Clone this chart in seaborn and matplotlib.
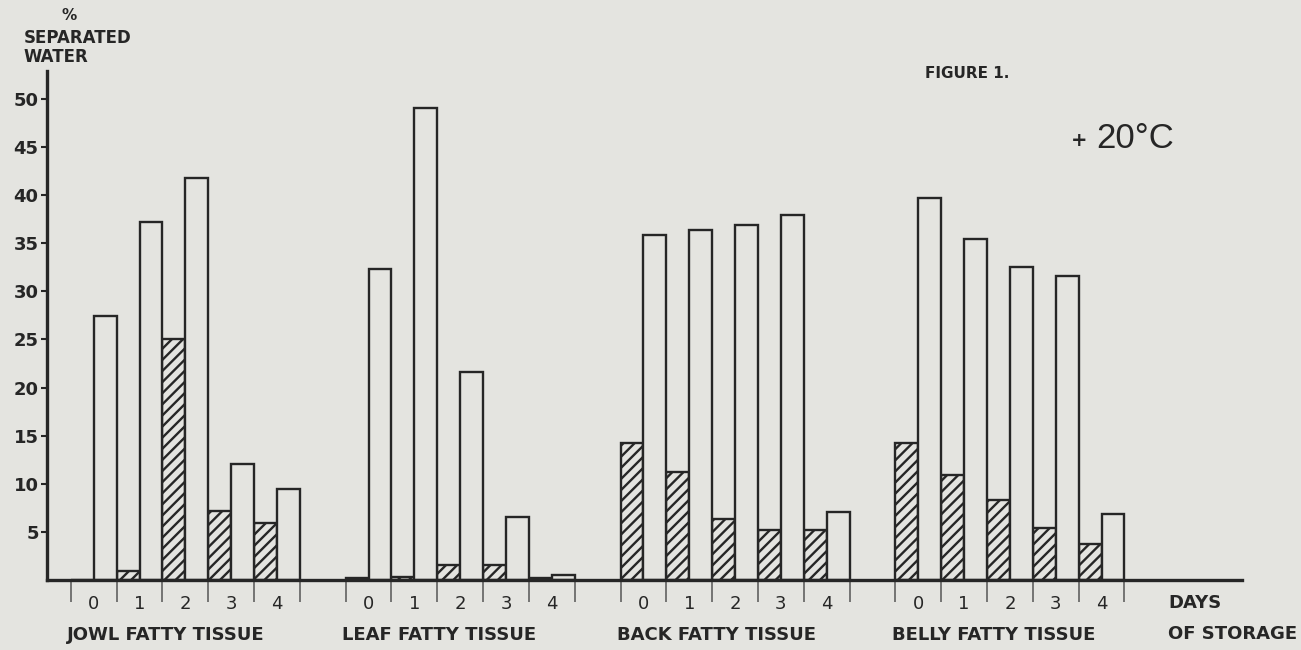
import numpy as np
import pandas as pd
import matplotlib
matplotlib.use("Agg")
import matplotlib.pyplot as plt
import seaborn as sns
from matplotlib import transforms

# ---------------- data ----------------
tissues = ["JOWL FATTY TISSUE", "LEAF FATTY TISSUE", "BACK FATTY TISSUE", "BELLY FATTY TISSUE"]
days = [0, 1, 2, 3, 4]
jowl_hatched = [0.0, 0.9, 25.1, 7.2, 5.9]
jowl_open = [27.4, 37.2, 41.8, 12.1, 9.5]
leaf_hatched = [0.2, 0.3, 1.6, 1.6, 0.2]
leaf_open = [32.3, 49.1, 21.6, 6.5, 0.5]
back_hatched = [14.2, 11.2, 6.3, 5.2, 5.2]
back_open = [35.9, 36.4, 36.9, 37.9, 7.1]
belly_hatched = [14.2, 10.9, 8.3, 5.4, 3.7]
belly_open = [39.7, 35.4, 32.5, 31.6, 6.9]
y_ticks = [5, 10, 15, 20, 25, 30, 35, 40, 45, 50]

hatched_series = [jowl_hatched, leaf_hatched, back_hatched, belly_hatched]
open_series = [jowl_open, leaf_open, back_open, belly_open]

GROUP_STRIDE = 6
rows = []
for g, (hs, os_) in enumerate(zip(hatched_series, open_series)):
    for d, hv, ov in zip(days, hs, os_):
        pos = g * GROUP_STRIDE + d
        rows.append({"pos": pos, "kind": "hatched", "value": hv})
        rows.append({"pos": pos, "kind": "open", "value": ov})
df = pd.DataFrame(rows)

# ---------------- style ----------------
BG = "#e4e4e0"
INK = "#262626"
sns.set_theme(style="ticks")
plt.rcParams["font.family"] = ["DejaVu Sans"]
plt.rcParams["hatch.linewidth"] = 1.7
plt.rcParams["hatch.color"] = INK

W, H = 1301, 650
fig = plt.figure(figsize=(W / 100, H / 100), dpi=100, facecolor=BG)
x0, x1 = 47, 1241.7
ybase, ytop = 580, 70.7
ax = fig.add_axes([x0 / W, 1 - ybase / H, (x1 - x0) / W, (ybase - ytop) / H])
ax.set_facecolor(BG)

sns.barplot(data=df, x="pos", y="value", hue="kind", hue_order=["hatched", "open"],
            native_scale=True, width=1.0, dodge=True, palette=[BG, BG],
            edgecolor=INK, linewidth=1.7, errorbar=None, legend=False, ax=ax)

for p in ax.patches:
    c = p.get_x() + p.get_width() / 2
    frac = c - np.floor(c)
    if abs(frac - 0.75) < 0.1:
        p.set_hatch("///")
    p.set_edgecolor(INK)
    p.set_linewidth(1.7)

ax.set_xlim(-1.02, 25.06)
ax.set_ylim(0, 52.94)

for s in ["top", "right"]:
    ax.spines[s].set_visible(False)
for s in ["left", "bottom"]:
    ax.spines[s].set_linewidth(2.4)
    ax.spines[s].set_color(INK)

ax.set_yticks(y_ticks)
ax.set_yticklabels([str(v) for v in y_ticks], fontsize=13, fontweight="bold", color=INK)
ax.tick_params(axis="y", direction="out", length=4, width=1.5, color=INK, pad=2)

centers = [g * GROUP_STRIDE + d for g in range(len(tissues)) for d in days]
bounds = [g * GROUP_STRIDE + d - 0.5 for g in range(len(tissues)) for d in range(len(days) + 1)]
ax.set_xticks(centers)
ax.set_xticklabels([str(d) for g in range(len(tissues)) for d in days], fontsize=13, color=INK)
ax.set_xticks(bounds, minor=True)
ax.tick_params(axis="x", which="major", length=0, pad=11)
ax.tick_params(axis="x", which="minor", length=16, width=1.1, color="#555555", direction="out")
ax.set_xlabel("")
ax.set_ylabel("")

trans = transforms.blended_transform_factory(ax.transData, ax.transAxes)
yfrac = -(635 - ybase) / (ybase - ytop)
for g, name in enumerate(tissues):
    ax.text(g * GROUP_STRIDE - 0.58, yfrac, name, transform=trans, ha="left", va="center",
            fontsize=13, fontweight="bold", color=INK)

def ftext(px, py, s, **kw):
    fig.text(px / W, 1 - py / H, s, **kw)

ftext(1168, 603, "DAYS", ha="left", va="center", fontsize=13, fontweight="bold", color=INK)
ftext(1168, 634, "OF STORAGE", ha="left", va="center", fontsize=13, fontweight="bold", color=INK)
ftext(69, 15, "%", ha="center", va="center", fontsize=11, fontweight="bold", color=INK)
ftext(24, 38, "SEPARATED", ha="left", va="center", fontsize=12, fontweight="bold", color=INK)
ftext(24, 57, "WATER", ha="left", va="center", fontsize=12, fontweight="bold", color=INK)
ftext(925, 73, "FIGURE 1.", ha="left", va="center", fontsize=11, fontweight="bold", color=INK)
ftext(1079, 140, "+", ha="center", va="center", fontsize=14, fontweight="bold", color=INK)
ftext(1096, 139, "20°C", ha="left", va="center", fontsize=25, color=INK, family=["Liberation Sans", "DejaVu Sans"])

fig.savefig("out.png", dpi=100, facecolor=BG)
